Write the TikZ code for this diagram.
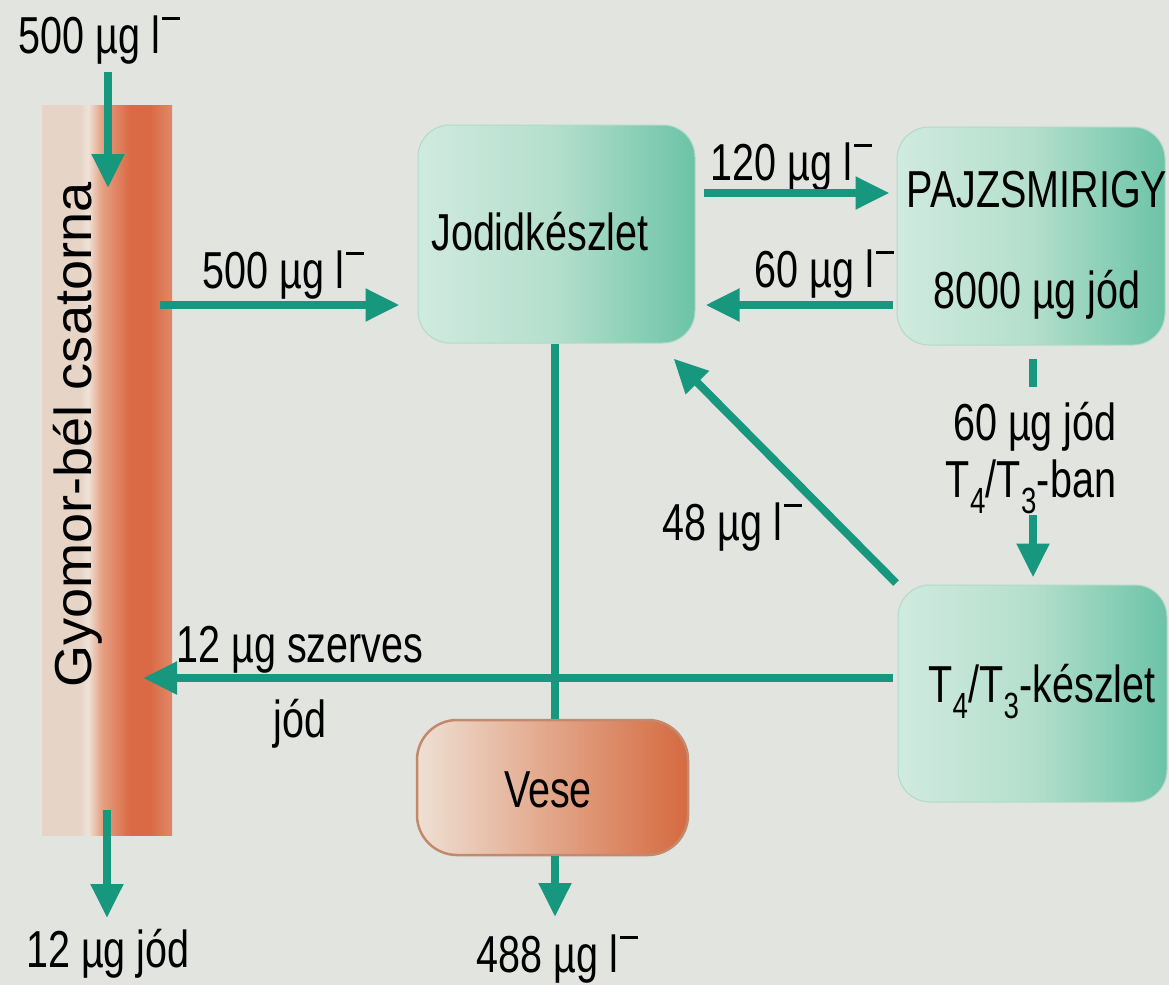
\documentclass[tikz,border=0pt]{standalone}
\usepackage{fontspec}
\setmainfont{Liberation Sans}[FakeStretch=0.76]
\newfontfamily\widefont{Liberation Sans}[FakeStretch=1.04]
\usetikzlibrary{arrows.meta}
\definecolor{bg}{HTML}{E2E4E0}
\definecolor{tealA}{HTML}{17977D}
\definecolor{boxL}{HTML}{D0EADF}
\definecolor{boxM}{HTML}{B4DFCD}
\definecolor{boxR}{HTML}{6CC3A7}
\definecolor{boxE}{HTML}{B0DACA}
\definecolor{gutA}{HTML}{E6D4C6}
\definecolor{gutW}{HTML}{EEE2D8}
\definecolor{gutB}{HTML}{E6A083}
\definecolor{gutC}{HTML}{DA6A45}
\definecolor{gutD}{HTML}{E08868}
\definecolor{veseL}{HTML}{EEE0D4}
\definecolor{veseM}{HTML}{E2A588}
\definecolor{veseR}{HTML}{D56A40}
\definecolor{veseE}{HTML}{C4896C}
\pgfdeclarehorizontalshading{gutshade}{100bp}{color(0bp)=(gutA); color(25bp)=(gutA); color(39.6bp)=(gutA); color(42.7bp)=(gutW); color(48bp)=(gutB); color(58.8bp)=(gutC); color(66.5bp)=(gutC); color(75bp)=(gutD); color(100bp)=(gutD)}
\newcommand\lm{l\kern2pt\rule[0.64em]{0.34em}{0.05em}}
\tikzset{
  arr/.style={draw=tealA, line width=8pt, -{Triangle[width=31pt,length=34pt]}},
  tline/.style={draw=tealA, line width=8pt},
  tbox/.style={rounded corners=32pt, left color=boxL, right color=boxR, middle color=boxM, draw=boxE, line width=1pt},
  vbox/.style={rounded corners=40pt, left color=veseL, right color=veseR, middle color=veseM, draw=veseE, line width=2.5pt},
  lbl/.style={anchor=base, inner sep=0pt, font=\fontsize{52}{60}\selectfont},
}
\begin{document}
\begin{tikzpicture}[x=1pt,y=-1pt]
\fill[bg] (0,0) rectangle (1169,985);
\useasboundingbox (0,0) rectangle (1169,985);

% shapes
\node[shading=gutshade, minimum width=130pt, minimum height=730pt, inner sep=0pt] (gut) at (107,470) {};
\node[tbox, minimum width=277pt, minimum height=218pt] (jod) at (556.5,234) {};
\node[tbox, minimum width=268pt, minimum height=218pt] (pajzs) at (1031,236) {};
\node[tbox, minimum width=269pt, minimum height=217pt] (t4) at (1032.5,693.5) {};
\node[vbox, minimum width=271pt, minimum height=135pt] (vese) at (552.5,787.5) {};

% helper coordinates
\coordinate (y193) at (0,193);
\coordinate (y305) at (0,305);
\coordinate (y678) at (0,678);
\coordinate (x555) at (555,0);
\coordinate (x1033) at (1033,0);
\coordinate (topA) at (108,72);
\coordinate (topB) at (108,188);
\coordinate (botA) at (107,810);
\coordinate (botB) at (107,918);
\coordinate (gutL) at (160,305);
\coordinate (gutR) at (143,678);
\coordinate (dashEnd) at (1033,387);
\coordinate (arrStart) at (1033,515);
\coordinate (veseOut) at (555,917);

% labels
\node[lbl] (l500a) at (99,53) {500 µg \lm};
\node[lbl] (l500b) at (283,288) {500 µg \lm};
\node[lbl] (l120) at (791,180) {120 µg \lm};
\node[lbl] (l60) at (824,287) {60 µg \lm};
\node[lbl] (tpajzs) at (1037,207) {PAJZSMIRIGY};
\node[lbl] (t8000) at (1037,308) {8000 µg jód};
\node[lbl] (tjod) at (540,250) {Jodidkészlet};
\node[lbl] (l60j) at (1035,440) {60 µg jód};
\node[lbl] (lban) at (1031,497) {T\textsubscript{4}/T\textsubscript{3}-ban};
\node[lbl] (tt4) at (1042,702) {T\textsubscript{4}/T\textsubscript{3}-készlet};
\node[lbl] (l48) at (732,540) {48 µg \lm};
\node[lbl] (l12a) at (300,662) {12 µg szerves};
\node[lbl] (l12b) at (300,737) {jód};
\node[lbl] (tvese) at (548,807) {Vese};
\node[lbl] (l488) at (557,972) {488 µg \lm};
\node[lbl] (l12j) at (108,967) {12 µg jód};
\node[lbl, rotate=90, font=\fontsize{52}{60}\widefont] (tgut) at (91,435) {Gyomor-bél csatorna};

% connectors
\draw[arr] (topA) -- (topB);
\draw[arr, shorten >=18pt] (gutL) -- (jod.west |- y305);
\draw[arr, shorten <=8pt, shorten >=7pt] (jod.east |- y193) -- (pajzs.west |- y193);
\draw[arr, shorten <=4pt, shorten >=10pt] (pajzs.west |- y305) -- (jod.east |- y305);
\draw[tline] (jod.south -| x555) -- (vese.north -| x555);
\draw[tline, shorten <=13pt] (pajzs.south -| x1033) -- (dashEnd);
\draw[arr, shorten >=7pt] (arrStart) -- (t4.north -| x1033);
\draw[arr, shorten <=2pt] (t4.north west) -- ([shift={(-22,15)}]jod.south east);
\draw[arr, shorten <=5pt] (t4.west |- y678) -- (gutR);
\draw[arr] (vese.south -| x555) -- (veseOut);
\draw[arr] (botA) -- (botB);
\end{tikzpicture}
\end{document}
